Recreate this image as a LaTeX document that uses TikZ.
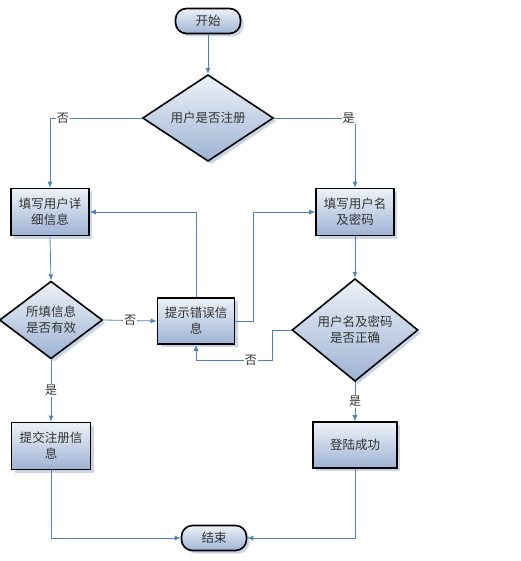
\documentclass[tikz,border=0pt]{standalone}
\usepackage{fontspec}
\newfontfamily\cjk{Noto Sans CJK SC}
\usetikzlibrary{shapes.geometric,arrows.meta,shadows}
\definecolor{lineblue}{HTML}{4F81BD}
\definecolor{topc}{HTML}{EEF2F8}
\definecolor{botc}{HTML}{9DB3D4}
\definecolor{shadowc}{HTML}{CAD5E5}
\definecolor{txt}{HTML}{333333}
\tikzset{
  base/.style={draw=black, line width=1.6pt, top color=topc, bottom color=botc,
    text=txt, font=\cjk\fontsize{12.5}{16}\selectfont, align=center, inner sep=0pt,
    drop shadow={shadow xshift=3pt, shadow yshift=-3pt, fill=shadowc, opacity=1}},
  procbox/.style={base, rectangle, minimum width=78pt, minimum height=47pt},
  term/.style={base, rectangle, rounded corners=11pt, minimum width=65pt, minimum height=25pt},
  decide/.style={base, diamond, inner sep=0pt},
  conn/.style={draw=lineblue, line width=0.8pt, -{Latex[length=6pt,width=5pt]}},
  lbl/.style={fill=white, inner sep=1pt, text=txt, font=\cjk\fontsize{12}{14}\selectfont}
}
\begin{document}
\begin{tikzpicture}[x=1pt,y=-1pt]
\useasboundingbox (0,0) rectangle (520,561);
\node[term] (start) at (208,21) {开始};
\node[decide, minimum width=131pt, minimum height=77pt] (d1) at (208,118) {用户是否注册};
\node[procbox] (b1) at (50,212) {填写用户详\\细信息};
\node[procbox] (b2) at (355,212) {填写用户名\\及密码};
\node[decide, minimum width=103pt, minimum height=65pt] (d2) at (51,320) {所填信息\\是否有效};
\node[procbox, minimum width=77pt, minimum height=46pt] (b3) at (196,321) {提示错误信\\息};
\node[decide, minimum width=126pt, minimum height=74pt] (d3) at (355,330) {用户名及密码\\是否正确};
\node[procbox, minimum width=84pt, minimum height=46pt] (b4) at (355,445) {登陆成功};
\node[procbox, minimum width=79pt] (b5) at (51,446) {提交注册信\\息};
\node[term] (end) at (214,538) {结束};

\draw[conn] (start.south) -- (d1.north);
\draw[conn] (d1.west) -| node[lbl, pos=0.43] {否} (b1.north);
\draw[conn] (d1.east) -| node[lbl, pos=0.46] {是} (b2.north);
\draw[conn] (b1.south) -- (d2.north);
\draw[conn] (d2.east) -- node[lbl] {否} (b3.west);
\draw[conn] (b3.north) |- (b1.east);
\draw[conn] (b3.east) -- ++(18,0) |- (b2.west);
\draw[conn] (b2.south) -- (d3.north);
\draw[conn] (d3.west) -- ++(-19,0) -- ++(0,30) -| node[lbl, pos=0.14] {否} (b3.south);
\draw[conn] (d3.south) -- node[lbl] {是} (b4.north);
\draw[conn] (d2.south) -- node[lbl] {是} (b5.north);
\draw[conn] (b5.south) |- (end.west);
\draw[conn] (b4.south) |- (end.east);
\end{tikzpicture}
\end{document}
